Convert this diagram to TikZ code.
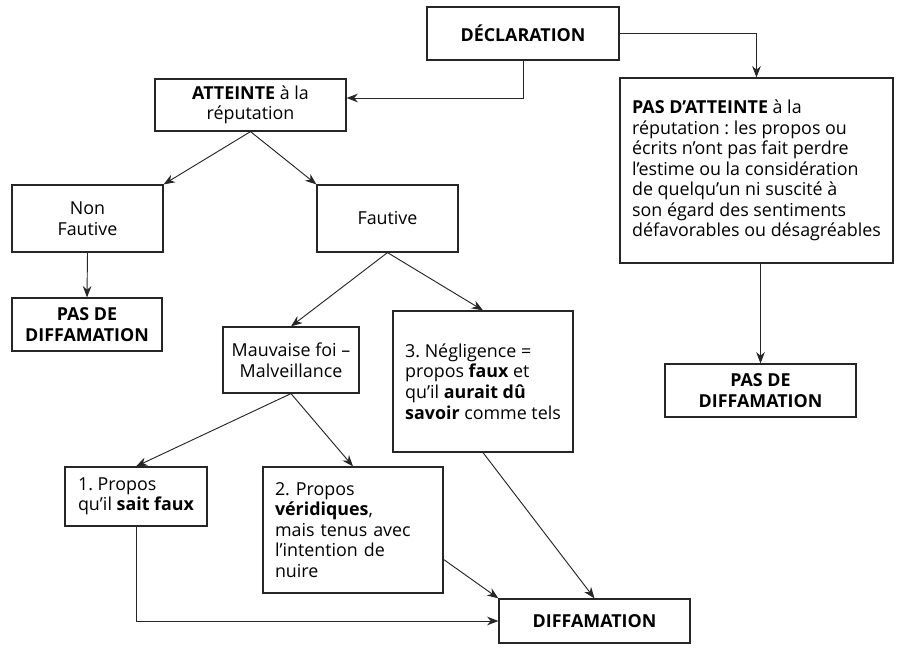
\documentclass[tikz,border=0pt]{standalone}
\usepackage{fontspec}
\setmainfont{Open Sans}
\usetikzlibrary{arrows.meta}
\frenchspacing

\begin{document}
\begin{tikzpicture}[x=0.75pt,y=-0.75pt,
  boite/.style={draw=black!85,line width=0.9pt,inner sep=0pt,align=center,
    font=\fontsize{13.4}{15.4}\selectfont},
  gauche/.style={boite,align=left},
  fleche/.style={draw=black!85,line width=0.7pt,-{Stealth[length=8.5pt,width=6.5pt]}}]
  \useasboundingbox (0,0) rectangle (903,648);
  % declaration et atteinte
  \node[boite,minimum width=144pt,minimum height=39.75pt] (decl) at (523,33.5) {\textbf{DÉCLARATION}};
  \node[boite,minimum width=143.25pt,minimum height=39pt] (atteinte) at (250.5,105) {\textbf{ATTEINTE} à la\\réputation};
  \node[gauche,minimum width=204.75pt,minimum height=138.75pt] (pasatteinte) at (756.5,170.5)
    {\textbf{PAS D’ATTEINTE} à la\\réputation : les propos ou\\écrits n’ont pas fait perdre\\l’estime ou la considération\\de quelqu’un ni suscité à\\son égard des sentiments\\défavorables ou désagréables};
  % fautive / non fautive
  \node[boite,minimum width=113.25pt,minimum height=50.25pt] (nonfautive) at (87.5,218.5) {Non\\Fautive};
  \node[boite,minimum width=105.75pt,minimum height=50.25pt] (fautive) at (387.5,218.5) {Fautive};
  \node[boite,minimum width=112.5pt,minimum height=39.75pt] (pasdiffA) at (87,324.5) {\textbf{PAS DE}\\\textbf{DIFFAMATION}};
  \node[boite,minimum width=143.25pt,minimum height=39.75pt] (pasdiffB) at (760.5,390.5) {\textbf{PAS DE}\\\textbf{DIFFAMATION}};
  % mauvaise foi et negligence
  \node[boite,minimum width=102pt,minimum height=49.5pt] (mauvaise) at (291,360) {Mauvaise foi –\\Malveillance};
  \node[gauche,minimum width=135pt,minimum height=105.75pt] (negligence) at (483,381.5)
    {3. Négligence =\\propos \textbf{faux} et\\qu’il \textbf{aurait dû}\\\textbf{savoir} comme tels};
  \node[gauche,minimum width=106.5pt,minimum height=44.25pt] (proposA) at (136,496.5) {1. Propos\\qu’il \textbf{sait faux}};
  \node[gauche,inner xsep=9pt,text width=117pt,minimum height=94.5pt] (proposB) at (353,530)
    {2. Propos\\\textbf{véridiques},\\mais tenus avec\\l’intention de\\nuire};
  \node[boite,minimum width=143.25pt,minimum height=33pt] (diffam) at (594.5,621) {\textbf{DIFFAMATION}};
  % fleches
  \draw[fleche] (decl.south) |- ([yshift=5.25pt]atteinte.east);
  \draw[fleche] (decl.east) -| (pasatteinte.north);
  \draw[fleche] (pasdiffB.north |- pasatteinte.south) -- (pasdiffB.north);
  \draw[fleche] (atteinte.south) -- (nonfautive.north east);
  \draw[fleche] (atteinte.south) -- (fautive.north west);
  \draw[fleche] (nonfautive.south) -- (pasdiffA.north);
  \draw[fleche] (fautive.south) -- (mauvaise.north);
  \draw[fleche] (fautive.south) -- (negligence.north);
  \draw[fleche] (mauvaise.south) -- (proposA.north);
  \draw[fleche] (mauvaise.south) -- (proposB.north);
  \draw[fleche] (proposB.-18) -- (diffam.north west);
  \draw[fleche] (negligence.south) -- (diffam.north);
  \draw[fleche] (proposA.south) |- (diffam.west);
\end{tikzpicture}
\end{document}
